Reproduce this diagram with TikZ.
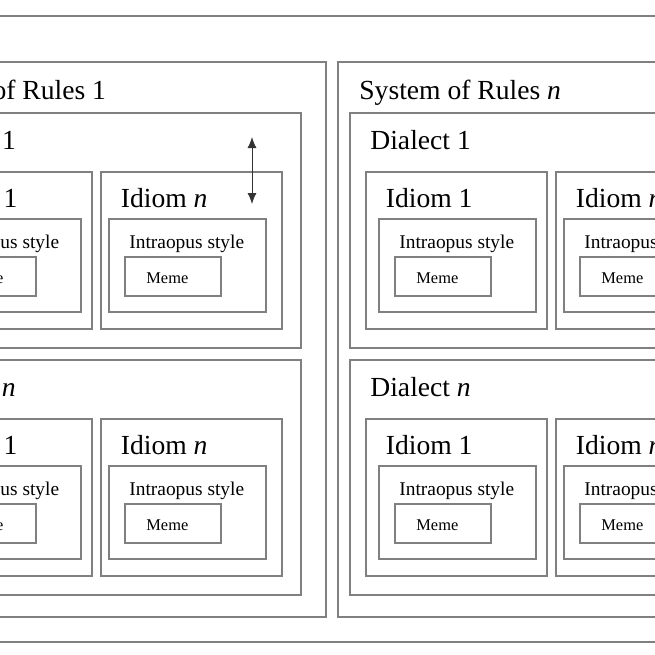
\documentclass[tikz,border=0pt]{standalone}
\usepackage{fontspec}
\setmainfont{Liberation Serif}
\usetikzlibrary{fit,arrows.meta}

\tikzset{
  frame/.style={draw=gray, line width=0.75pt, inner sep=0pt},
  bigtxt/.style={anchor=base west, inner sep=0pt, font=\fontsize{13.8}{16}\selectfont},
  midtxt/.style={anchor=base west, inner sep=0pt, font=\fontsize{9.7}{12}\selectfont},
  smalltxt/.style={anchor=base west, inner sep=0pt, font=\fontsize{8.2}{10}\selectfont},
}

\begin{document}
\begin{tikzpicture}[>={Latex[length=5.5pt,width=4.5pt]}, x=0.5pt, y=-0.5pt]

    \useasboundingbox (0,0) rectangle (655,655);
    \clip (0,0) rectangle (655,655);

    % outer frame
    \node[frame, fit={(-140,16) (800,642)}] (outer) {};

    % systems of rules
    \foreach \sx/\sid/\stxt in {-117/1/1, 338/n/\textit{n}} {
        \node[frame, fit={(\sx,62) (\sx+443,617)}] (sys\sid) {};
        \node[bigtxt] (sys\sid-t) at (\sx+21,99) {System of Rules \stxt};
        % dialects
        \foreach \dy/\did/\dtxt in {113/1/1, 360/n/\textit{n}} {
            \node[frame, fit={(\sx+12,\dy) (\sx+418,\dy+235)}] (dia\sid\did) {};
            \node[bigtxt] (dia\sid\did-t) at (\sx+32,\dy+36) {Dialect \dtxt};
            % idioms
            \foreach \ix/\ip/\iid/\itxt in {16/13/1/1, 206/8/n/\textit{n}} {
                \node[frame, fit={(\sx+12+\ix,\dy+59) (\sx+193+\ix,\dy+216)}] (idi\sid\did\iid) {};
                \node[bigtxt] (idi\sid\did\iid-t) at (\sx+31.5+\ix,\dy+94.5) {Idiom \itxt};
                \node[frame, fit={(\sx+12+\ix+\ip,\dy+106) (\sx+169+\ix+\ip,\dy+199)}] (sty\sid\did\iid) {};
                \node[midtxt] (sty\sid\did\iid-t) at (\sx+32+\ix+\ip,\dy+135) {Intraopus style};
                \node[frame, fit={(\sx+28+\ix+\ip,\dy+144) (\sx+124+\ix+\ip,\dy+183)}] (mem\sid\did\iid) {};
                \node[smalltxt] (mem\sid\did\iid-t) at (\sx+49+\ix+\ip,\dy+170) {Meme};
            }
        }
    }

    % two-way arrow
    \coordinate (up) at (252,137);
    \coordinate (dn) at (252,204);
    \draw[<->, line width=0.5pt, black!80] (up) -- (dn);

\end{tikzpicture}
\end{document}
